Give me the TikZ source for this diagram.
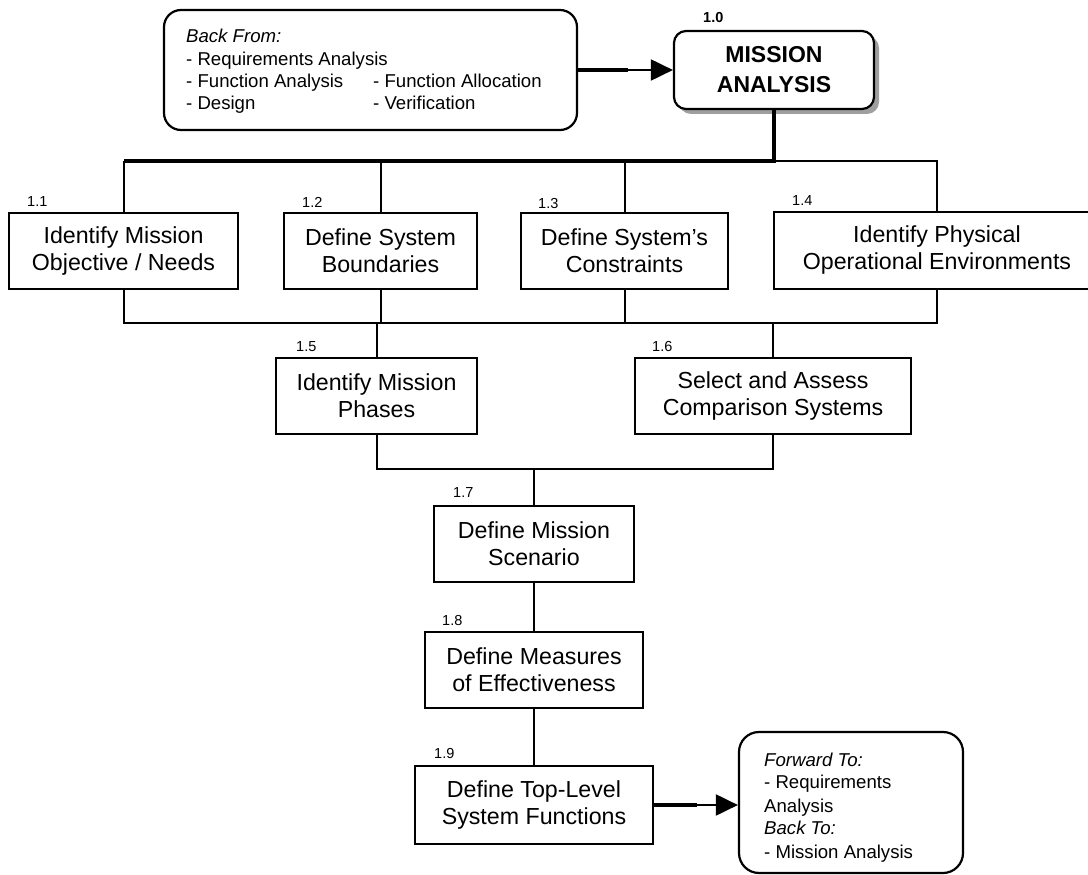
\documentclass[tikz,border=0pt]{standalone}
\usepackage{fontspec}
\setmainfont{Liberation Sans}
\usetikzlibrary{arrows.meta,shadows}
\begin{document}
\begin{tikzpicture}[x=1pt,y=-1pt,
  box/.style={draw, line width=2.2pt, rectangle, align=center, inner sep=0pt,
    font=\fontsize{23.2}{27}\selectfont},
  num/.style={anchor=west, inner sep=0pt, font=\fontsize{14.5}{14.5}\selectfont},
  note/.style={anchor=base west, inner sep=0pt, font=\fontsize{18.6}{22}\selectfont},
  conn/.style={line width=2pt},
  heavy/.style={line width=3.4pt},
  feed/.style={line width=4pt},
  tip/.style={-{Triangle[length=22pt,width=21pt]}}
]
\useasboundingbox (0,0) rectangle (1088,875);
\clip (0,0) rectangle (1088,875);

% input note and the top-level activity
\node[box, fill=white, minimum width=413pt, minimum height=120pt, rounded corners=17pt] (bf) at (370.5,70) {};
\node[note] (bft) at (186,43) {\itshape Back From:};
\node[note] (bf1) at (186,66) {- Requirements Analysis};
\node[note] (bf2) at (186,88) {- Function Analysis};
\node[note] (bf3) at (373,88) {- Function Allocation};
\node[note] (bf4) at (186,110) {- Design};
\node[note] (bf5) at (373,110) {- Verification};

\node[box, fill=white, rounded corners=12pt, minimum width=200pt, minimum height=78pt,
  font=\fontsize{23}{30}\selectfont\bfseries,
  drop shadow={shadow xshift=5pt, shadow yshift=-5pt, fill=gray!75, opacity=1}] (ma) at (774,70) {MISSION\\ANALYSIS};
\node[num, font=\fontsize{14.5}{14.5}\selectfont\bfseries] (n10) at (703,18) {1.0};

% sub-activities
\node[box, minimum width=229pt, minimum height=76pt] (b11) at (123.5,251) {Identify Mission\\Objective / Needs};
\node[box, minimum width=193pt, minimum height=76pt] (b12) at (380.5,251) {Define System\\Boundaries};
\node[box, minimum width=207pt, minimum height=76pt] (b13) at (624.5,251) {Define System’s\\Constraints};
\node[box, minimum width=326pt, minimum height=77pt] (b14) at (937,250.5) {Identify Physical\\Operational Environments};
\node[box, minimum width=201pt, minimum height=76pt] (b15) at (376.5,396) {Identify Mission\\Phases};
\node[box, minimum width=276pt, minimum height=76pt] (b16) at (773,396) {Select and Assess\\Comparison Systems};
\node[box, minimum width=200pt, minimum height=76pt] (b17) at (534,544) {Define Mission\\Scenario};
\node[box, minimum width=218pt, minimum height=76pt] (b18) at (534,670) {Define Measures\\of Effectiveness};
\node[box, minimum width=238pt, minimum height=78pt] (b19) at (534,805) {Define Top-Level\\System Functions};

\node[num] (n11) at (27,202) {1.1};
\node[num] (n12) at (302,202) {1.2};
\node[num] (n13) at (538,204) {1.3};
\node[num] (n14) at (792,201) {1.4};
\node[num] (n15) at (296,347) {1.5};
\node[num] (n16) at (652,347) {1.6};
\node[num] (n17) at (453,493) {1.7};
\node[num] (n18) at (442,621) {1.8};
\node[num] (n19) at (434,754) {1.9};

% output note
\node[box, minimum width=224pt, minimum height=141pt, rounded corners=20pt] (fwd) at (851,802.5) {};
\node[note] (fw1) at (764,766) {\itshape Forward To:};
\node[note] (fw2) at (764,788) {- Requirements};
\node[note] (fw3) at (764,812) {Analysis};
\node[note] (fw4) at (764,834) {\itshape Back To:};
\node[note] (fw5) at (764,858) {- Mission Analysis};

% bus levels
\coordinate (tbus) at (0,161);
\coordinate (bus1) at (0,323);
\coordinate (bus2) at (0,469);

% top distribution bus
\draw[heavy] (ma.south) |- (b11.north |- tbus);
\draw[conn] (b11.north |- tbus) -- (b11.north);
\draw[conn] (ma.south |- tbus) -- (b14.north |- tbus) -- (b14.north);
\draw[conn] (b12.north |- tbus) -- (b12.north);
\draw[conn] (b13.north |- tbus) -- (b13.north);

% first collecting bus
\draw[conn] (b11.south) -- (b11.south |- bus1) -- (b14.south |- bus1) -- (b14.south);
\draw[conn] (b12.south) -- (b12.south |- bus1);
\draw[conn] (b13.south) -- (b13.south |- bus1);
\draw[conn] (b15.north |- bus1) -- (b15.north);
\draw[conn] (b16.north |- bus1) -- (b16.north);

% second collecting bus and the chain below
\draw[conn] (b15.south) -- (b15.south |- bus2) -- (b16.south |- bus2) -- (b16.south);
\draw[conn] (b17.north |- bus2) -- (b17.north);
\draw[conn] (b17.south) -- (b18.north);
\draw[conn] (b18.south) -- (b19.north);

% feedback and forward arrows
\coordinate (a1) at (628,70);
\draw[feed] (bf.east) -- (a1);
\draw[conn, tip] (a1) -- (ma.west);
\coordinate (a2) at (697,805);
\draw[feed] (b19.east) -- (a2);
\draw[conn, tip] (a2) -- (a2 -| fwd.west);
\end{tikzpicture}
\end{document}
